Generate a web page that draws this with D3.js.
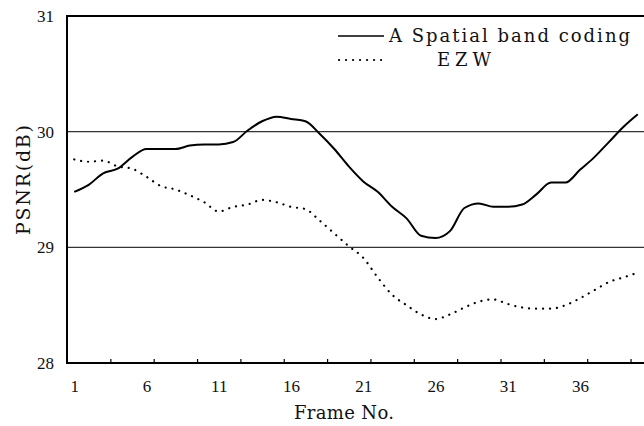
<!DOCTYPE html>
<html>
<head>
<meta charset="utf-8">
<script src="https://cdn.jsdelivr.net/npm/d3@7"></script>
<style>
  body { margin: 0; background: #fff; }
  text { font-family: "DejaVu Serif", "Liberation Serif", serif; fill: #111; }
</style>
</head>
<body>
<svg width="644" height="426"></svg>
<script>
var svg = d3.select("svg"),
    width = +svg.attr("width"),
    height = +svg.attr("height");

// frame numbers 1..40
var frames = d3.range(1, 41);

var spatialBand = [29.48, 29.54, 29.64, 29.68, 29.78, 29.85, 29.85, 29.85, 29.88, 29.89,
                   29.89, 29.91, 30.01, 30.09, 30.13, 30.11, 30.09, 29.98, 29.85, 29.70,
                   29.57, 29.48, 29.35, 29.25, 29.10, 29.08, 29.14, 29.34, 29.38, 29.35,
                   29.35, 29.37, 29.46, 29.56, 29.56, 29.67, 29.78, 29.91, 30.04, 30.15];

var ezw = [29.76, 29.74, 29.75, 29.70, 29.68, 29.61, 29.53, 29.50, 29.45, 29.39,
           29.31, 29.35, 29.37, 29.41, 29.39, 29.35, 29.33, 29.23, 29.12, 29.01,
           28.91, 28.74, 28.59, 28.50, 28.42, 28.38, 28.42, 28.48, 28.53, 28.55,
           28.51, 28.48, 28.47, 28.47, 28.50, 28.56, 28.63, 28.70, 28.74, 28.78];

var xTickLabels = [1, 6, 11, 16, 21, 26, 31, 36];
var xTickMarks = [3.5, 6.5, 9.5, 12.5, 15.5, 18.5, 21.5, 24.5, 27.5, 30.5, 33.5, 36.5, 39.5];
var yTicks = [28, 29, 30, 31];
var gridValues = [29, 30];

var legendNames = ["A Spatial band coding", "EZW"];

var x = d3.scaleLinear()
    .domain([0.5, 40.5])
    .range([67, 645]);

var y = d3.scaleLinear()
    .domain([28, 31])
    .range([363, 16]);

// grid lines
svg.append("g")
    .selectAll("line")
    .data(gridValues)
    .enter().append("line")
    .attr("x1", x(0.5))
    .attr("x2", width)
    .attr("y1", d => y(d))
    .attr("y2", d => y(d))
    .attr("stroke", "#333")
    .attr("stroke-width", 1.3);

// frame: top, left, bottom
svg.append("path")
    .attr("d", "M" + width + "," + y(31) + "H" + x(0.5) + "V" + y(28) + "H" + width)
    .attr("fill", "none")
    .attr("stroke", "#000")
    .attr("stroke-width", 2);

// small tick marks standing on the bottom axis
svg.append("g")
    .attr("transform", "translate(0," + y(28) + ")")
    .call(d3.axisBottom(x).tickValues(xTickMarks).tickSizeInner(-4).tickSizeOuter(0).tickFormat(""))
    .call(g => g.select(".domain").remove())
    .selectAll("line").attr("stroke", "#000").attr("stroke-width", 1.2);

// x labels
svg.append("g")
    .attr("transform", "translate(0," + y(28) + ")")
    .call(d3.axisBottom(x).tickValues(xTickLabels).tickSize(0).tickPadding(17))
    .call(g => g.select(".domain").remove())
    .selectAll("text")
    .style("font-size", "17px")
    .style("font-family", "'Liberation Serif', serif")
    .attr("fill", "#111");

// y labels
svg.append("g")
    .attr("transform", "translate(" + x(0.5) + ",0)")
    .call(d3.axisLeft(y).tickValues(yTicks).tickFormat(d3.format("d")).tickSize(0).tickPadding(13))
    .call(g => g.select(".domain").remove())
    .selectAll("text")
    .style("font-size", "17px")
    .style("font-family", "'Liberation Serif', serif")
    .attr("fill", "#111");

// axis titles
svg.append("text")
    .attr("x", 344)
    .attr("y", 419)
    .attr("text-anchor", "middle")
    .attr("textLength", 100)
    .style("font-size", "18px")
    .text("Frame No.");

svg.append("text")
    .attr("transform", "translate(30,180) rotate(-90)")
    .attr("text-anchor", "middle")
    .attr("textLength", 110)
    .style("font-size", "19px")
    .text("PSNR(dB)");

var line = d3.line()
    .x((d, i) => x(frames[i]))
    .y(d => y(d))
    .curve(d3.curveMonotoneX);

svg.append("path")
    .datum(spatialBand)
    .attr("d", line)
    .attr("fill", "none")
    .attr("stroke", "#000")
    .attr("stroke-width", 2);

svg.append("path")
    .datum(ezw)
    .attr("d", line)
    .attr("fill", "none")
    .attr("stroke", "#000")
    .attr("stroke-width", 2.2)
    .attr("stroke-linecap", "round")
    .attr("stroke-dasharray", "0.1,6.9");

// legend
var legend = svg.append("g");

legend.append("line")
    .attr("x1", 338).attr("x2", 384)
    .attr("y1", 36).attr("y2", 36)
    .attr("stroke", "#000")
    .attr("stroke-width", 1.5);

legend.append("line")
    .attr("x1", 339).attr("x2", 384)
    .attr("y1", 60).attr("y2", 60)
    .attr("stroke", "#000")
    .attr("stroke-width", 2.2)
    .attr("stroke-linecap", "round")
    .attr("stroke-dasharray", "0.1,6.9");

legend.append("text")
    .attr("x", 389)
    .attr("y", 42)
    .attr("textLength", 241)
    .style("font-size", "18px")
    .text(legendNames[0]);

legend.append("text")
    .attr("x", 437)
    .attr("y", 66)
    .attr("textLength", 54)
    .style("font-size", "18px")
    .text(legendNames[1]);
</script>
</body>
</html>
